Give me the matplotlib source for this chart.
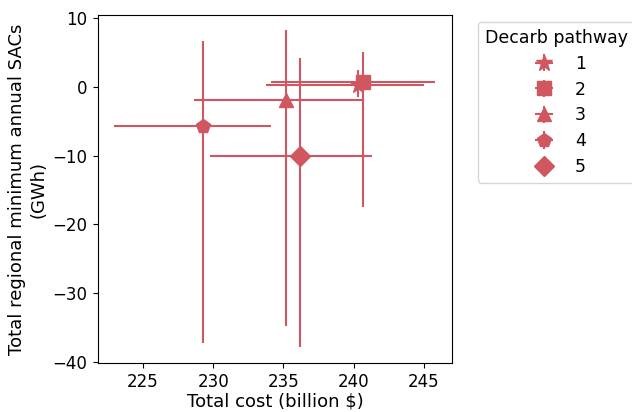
import matplotlib
matplotlib.use('Agg')
import matplotlib.pyplot as plt
import numpy as np

# decarb pathways and their median / range values
pathways = ['1', '2', '3', '4', '5']
markers = ['*', 's', '^', 'p', 'D']
cost = [240.29, 240.64, 235.17, 229.24, 236.19]
cost_low = [233.74, 234.12, 228.62, 222.96, 229.76]
cost_high = [245.0, 245.79, 240.67, 234.1, 241.31]
sacs = [0.33, 0.73, -1.95, -5.63, -10.1]
sacs_low = [-1.5, -17.47, -34.76, -37.3, -37.86]
sacs_high = [2.52, 5.18, 8.34, 6.78, 4.22]

color = '#d0575f'

plt.rcParams['font.family'] = ['DejaVu Sans']
plt.rcParams['font.size'] = 12

fig = plt.figure(figsize=(6.32, 4.12), dpi=100)
ax = fig.add_axes([98 / 632, 1 - 363 / 412, (452 - 98) / 632, (363 - 15) / 412])

for i in range(len(pathways)):
    xerr = [[cost[i] - cost_low[i]], [cost_high[i] - cost[i]]]
    yerr = [[sacs[i] - sacs_low[i]], [sacs_high[i] - sacs[i]]]
    ax.errorbar(cost[i], sacs[i], xerr=xerr, yerr=yerr, fmt=markers[i],
                color=color, markersize=10 if markers[i] != '*' else 12,
                elinewidth=1.5, label=pathways[i])

ax.set_xlim(221.8, 247.0)
ax.set_ylim(-40.2, 10.5)
ax.set_xticks([225, 230, 235, 240, 245])
ax.set_yticks([10, 0, -10, -20, -30, -40])
ax.tick_params(labelsize=12, pad=4)
ax.set_xlabel('Total cost (billion $)', fontsize=13, labelpad=1)
ax.set_ylabel('Total regional minimum annual SACs\n(GWh)', fontsize=13, labelpad=4)

leg = ax.legend(title='Decarb pathway', loc='upper left', bbox_to_anchor=(1.073, 0.98),
                borderaxespad=0, frameon=True, fontsize=12.5, labelspacing=0.45)
leg.get_title().set_fontsize(12.5)

fig.savefig('out.png', dpi=100)
